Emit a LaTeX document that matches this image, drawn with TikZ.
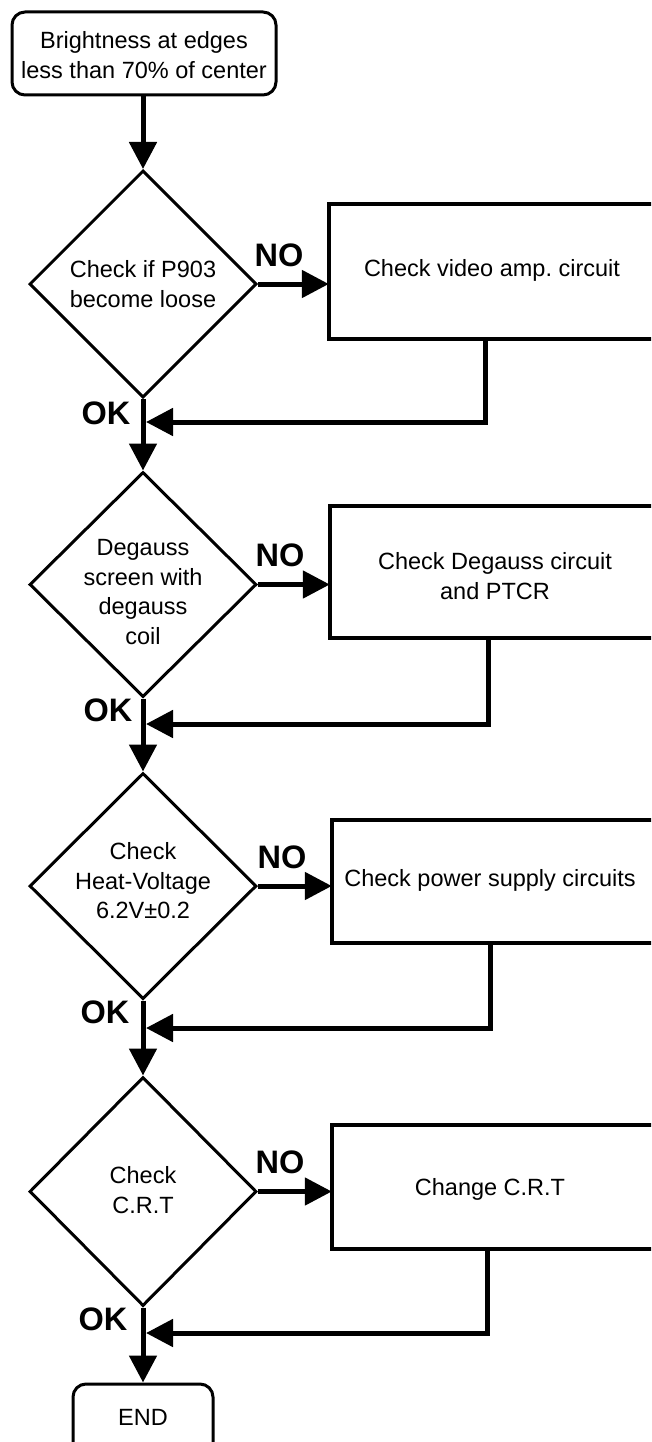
\documentclass[tikz,border=0pt]{standalone}
\usepackage{fontspec}
\setmainfont{Liberation Sans}
\usetikzlibrary{arrows.meta,shapes.geometric}
\frenchspacing
\begin{document}
\begin{tikzpicture}[x=1pt,y=-1pt,
  txt/.style={font=\fontsize{23.5}{29.5}\selectfont, align=center, inner sep=0pt},
  lbl/.style={font=\fontsize{32.5}{32.5}\selectfont\bfseries, inner sep=0pt},
  term/.style={draw, line width=3pt, rounded corners=13pt, inner sep=0pt},
  decision/.style={draw, diamond, line width=3pt, minimum width=227pt, minimum height=227pt, inner sep=0pt},
  actbox/.style={draw, line width=3.5pt},
  flow/.style={line width=5pt, -{Triangle[length=27pt,width=27pt]}},
  plain/.style={line width=5pt}
]
\useasboundingbox (0,0) rectangle (651,1442);
\begin{scope}
\clip (0,0) rectangle (651,1442);
% start
\node[term, minimum width=264pt, minimum height=83pt] (start) at (144,53.5) {};
\node[txt] (startt) at (144,55) {Brightness at edges\\less than 70\% of center};

% decisions
\node[decision] (d1) at (143,284) {};
\node[txt] (d1t) at (143,284) {Check if P903\\become loose};
\node[decision, minimum height=225pt] (d2) at (143,584.5) {};
\node[txt] (d2t) at (143,592) {Degauss\\screen with\\degauss\\coil};
\node[decision, minimum height=226pt] (d3) at (143,886) {};
\node[txt] (d3t) at (143,881) {Check\\Heat-Voltage\\6.2V±0.2};
\node[decision, minimum height=229pt] (d4) at (143,1191.5) {};
\node[txt] (d4t) at (143,1190) {Check\\C.R.T};

% action boxes
\draw[actbox] (329,204) rectangle (670,339);
\node[minimum width=341pt, minimum height=135pt, inner sep=0pt] (b1) at (499.5,271.5) {};
\node[txt] (b1t) at (492,270) {Check video amp. circuit};
\draw[actbox] (330,506) rectangle (670,638);
\node[minimum width=340pt, minimum height=132pt, inner sep=0pt] (b2) at (500,572) {};
\node[txt] (b2t) at (495,576) {Check Degauss circuit\\and PTCR};
\draw[actbox] (332,820) rectangle (670,943);
\node[minimum width=338pt, minimum height=123pt, inner sep=0pt] (b3) at (501,881.5) {};
\node[txt] (b3t) at (490,880) {Check power supply circuits};
\draw[actbox] (332,1125) rectangle (670,1249);
\node[minimum width=338pt, minimum height=124pt, inner sep=0pt] (b4) at (501,1187) {};
\node[txt] (b4t) at (490,1189) {Change C.R.T};

% end
\node[term, minimum width=140pt, minimum height=80pt] (endb) at (143,1424) {};
\node[txt] (endt) at (143,1417) {END};

% labels
\node[lbl] (no1) at (279,255) {NO};
\node[lbl] (no2) at (280,555) {NO};
\node[lbl] (no3) at (282,857) {NO};
\node[lbl] (no4) at (280,1162) {NO};
\node[lbl] (ok1) at (106,413) {OK};
\node[lbl] (ok2) at (108,710) {OK};
\node[lbl] (ok3) at (105,1012) {OK};
\node[lbl] (ok4) at (103,1319) {OK};

% main flow
\draw[flow] (d1.north |- start.south) -- (d1.north);
\draw[flow] (d1.south) -- (d2.north);
\draw[flow] (d2.south) -- (d3.north);
\draw[flow] (d3.south) -- (d4.north);
\draw[flow] (d4.south) -- (endb.north);

% NO branches
\draw[flow] (d1.east) -- (d1.east -| b1.west);
\draw[flow] (d2.east) -- (d2.east -| b2.west);
\draw[flow] (d3.east) -- (d3.east -| b3.west);
\draw[flow] (d4.east) -- (d4.east -| b4.west);

% feedback
\coordinate (c1) at (485,422);  \coordinate (m1) at (146,422);
\coordinate (c2) at (488,724);  \coordinate (m2) at (146,724);
\coordinate (c3) at (490,1028); \coordinate (m3) at (146,1028);
\coordinate (c4) at (487,1333); \coordinate (m4) at (146,1333);
\draw[flow] (c1 |- b1.south) -- (c1) -- (m1);
\draw[flow] (c2 |- b2.south) -- (c2) -- (m2);
\draw[flow] (c3 |- b3.south) -- (c3) -- (m3);
\draw[flow] (c4 |- b4.south) -- (c4) -- (m4);
\end{scope}
\end{tikzpicture}
\end{document}
